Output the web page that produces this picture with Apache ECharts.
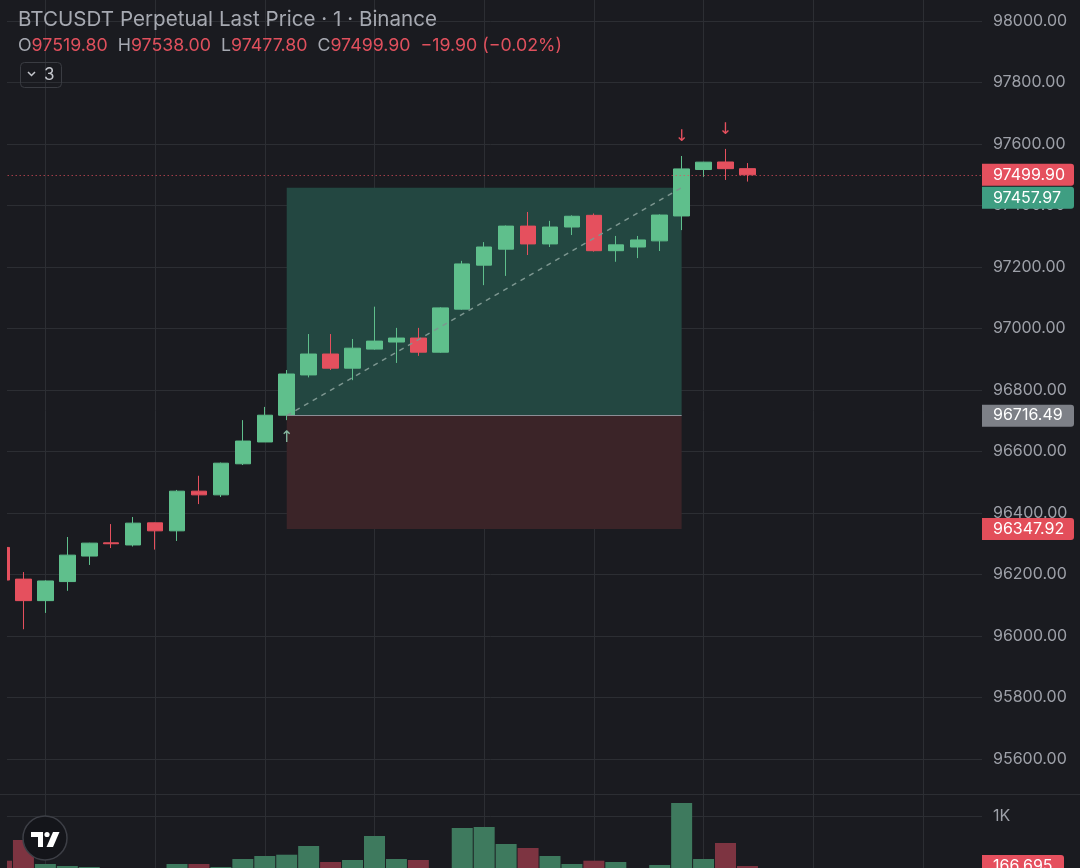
<!DOCTYPE html>
<html><head><meta charset="utf-8">
<script src="https://cdn.jsdelivr.net/npm/echarts@6/dist/echarts.min.js"></script>
<style>html,body{margin:0;padding:0;background:#1a1b20;}#c{width:1080px;height:868px;}</style>
</head><body><div id="c"></div>
<script>
// ---------- data ----------
const barIndex = [0,1,2,3,4,5,6,7,8,9,10,11,12,13,14,15,16,17,18,19,20,21,22,23,24,25,26,27,28,29,30,31,32,33,34];
const opens  = [96288,96185,96115,96177,96260,96303,96296,96368,96342,96471,96459,96560,96631,96718,96849,96917,96871,96933,96956,96969,96923,97063,97206,97258,97333,97275,97330,97368,97253,97265,97285,97366,97517,97541.5,97519.8];
const closes = [96182,96115,96179,96263,96302,96300,96367,96342,96471,96459,96562,96634,96718,96852,96917,96871,96936,96959,96969,96923,97067,97210,97265,97333,97275,97330,97365,97253,97272,97288,97369,97519,97541,97519.8,97499.9];
const lows   = [96170,96022,96075,96147,96231,96286,96291,96281,96309,96429,96452,96556,96631,96702,96841,96865,96832,96931,96888,96911,96921,97061,97141,97171,97239,97265,97304,97250,97217,97229,97252,97320,97493,97483,97477.8];
const highs  = [96300,96208,96181,96322,96303,96364,96387,96369,96475,96521,96564,96702,96745,96865,96982,96982,96966,97071,97002,97002,97069,97220,97281,97335,97379,97350,97368,97374,97301,97301,97371,97561,97542,97584,97538];
const volumes = [255,600,200,167,150,90,110,70,200,200,150,283,333,355,500,233,267,667,283,267,120,800,817,533,467,333,200,255,233,100,183,1217,283,550,166.695];

const entryPrice = 96716.49;
const takeProfit = 97457.97;
const stopLoss = 96347.92;
const positionStart = 13;
const positionEnd = 31;
const signalBars = [13, 31, 33];
const signalDirs = ['up', 'down', 'down'];

const titleText = 'BTCUSDT Perpetual Last Price · 1 · Binance';
const indicatorCount = '3';

// ---------- style ----------
const bg = '#1a1b20';
const gridColor = '#2c2e33';
const upColor = '#5fbf8c', downColor = '#e5505e';
const volUp = '#3e7a5e', volDown = '#7d3441';
const axisText = '#9da0a8';
const FONT = 'Inter';

const last = barIndex.length - 1;
const lastPrice = closes[last];

const candleData = barIndex.map(i => [i, opens[i], closes[i], lows[i], highs[i]]);
const volData = barIndex.map(i => ({ value: [i, volumes[i]], itemStyle: { color: closes[i] < opens[i] ? volDown : volUp } }));

const xBase = (g) => ({
  type: 'value', gridIndex: g, min: -3, max: 44.69, interval: 5,
  axisLine: { show: false }, axisTick: { show: false }, axisLabel: { show: false },
  splitLine: { show: true, showMinLine: false, showMaxLine: false, lineStyle: { color: gridColor, width: 1 } }
});

const chart = echarts.init(document.getElementById('c'), null, { renderer: 'canvas', width: 1080, height: 868 });

chart.setOption({
  animation: false,
  backgroundColor: bg,
  grid: [
    { left: -64.32, right: 98, top: 0, bottom: 47.5, outerBoundsMode: 'none', containLabel: false },
    { left: -64.32, right: 98, top: 794, bottom: -8, outerBoundsMode: 'none', containLabel: false }
  ],
  xAxis: [xBase(0), xBase(1)],
  yAxis: [
    {
      type: 'value', gridIndex: 0, position: 'right', min: 95400, max: 98068.29, interval: 200,
      axisLine: { show: true, lineStyle: { color: gridColor } }, axisTick: { show: false },
      axisLabel: { color: axisText, fontSize: 16, fontFamily: FONT, margin: 11, showMinLabel: false, showMaxLabel: false,
        formatter: v => v.toFixed(2) },
      splitLine: { show: true, showMinLine: false, showMaxLine: false, lineStyle: { color: gridColor } }
    },
    {
      type: 'value', gridIndex: 1, position: 'right', min: 0, max: 1366.7, interval: 1000,
      axisLine: { show: true, lineStyle: { color: gridColor } }, axisTick: { show: false },
      axisLabel: { color: axisText, fontSize: 16, fontFamily: FONT, margin: 11, showMinLabel: false, showMaxLabel: false,
        formatter: v => (v === 1000 ? '1K' : '') },
      splitLine: { show: true, showMinLine: false, showMaxLine: false, lineStyle: { color: gridColor } }
    }
  ],
  series: [
    {
      type: 'line', xAxisIndex: 0, yAxisIndex: 0, z: 1, silent: true,
      data: [[positionStart, entryPrice]], symbol: 'none', lineStyle: { opacity: 0 },
      markArea: {
        silent: true,
        data: [
          [{ coord: [positionStart, entryPrice], itemStyle: { color: '#234741', opacity: 1 } }, { coord: [positionEnd, takeProfit] }],
          [{ coord: [positionStart, stopLoss], itemStyle: { color: '#3b2428', opacity: 1 } }, { coord: [positionEnd, entryPrice] }]
        ]
      },
      markLine: {
        silent: true, symbol: ['none', 'none'], label: { show: false },
        data: [
          [{ coord: [positionStart, entryPrice], lineStyle: { color: '#8b8e95', width: 1, type: 'solid' } }, { coord: [positionEnd, entryPrice] }],
          [{ coord: [positionStart, entryPrice], lineStyle: { color: '#7d9690', width: 1.5, type: [5, 5] } }, { coord: [positionEnd, takeProfit] }]
        ]
      }
    },
    {
      type: 'candlestick', xAxisIndex: 0, yAxisIndex: 0, z: 3,
      data: candleData, encode: { x: 0, y: [1, 2, 3, 4] },
      barWidth: 16,
      itemStyle: { color: upColor, color0: downColor, borderColor: upColor, borderColor0: downColor, borderWidth: 1 },
      markLine: {
        silent: true, symbol: ['none', 'none'], label: { show: false },
        lineStyle: { color: downColor, type: [1, 3], width: 1 },
        data: [{ yAxis: lastPrice }]
      }
    },
    {
      type: 'bar', xAxisIndex: 1, yAxisIndex: 1, z: 2,
      data: volData, barWidth: 21, encode: { x: 0, y: 1 }
    }
  ]
});

// ---------- overlay graphics positioned through the chart's scales ----------
function py(p) { return chart.convertToPixel({ yAxisIndex: 0 }, p); }
function px(i) { return chart.convertToPixel({ xAxisIndex: 0 }, i); }
function vy(v) { return chart.convertToPixel({ yAxisIndex: 1 }, v); }

const fmt = v => v.toFixed(2);
const labels = [
  { y: py(lastPrice), text: fmt(lastPrice), color: downColor },
  { y: py(takeProfit), text: fmt(takeProfit), color: '#3f9e82' },
  { y: py(entryPrice), text: fmt(entryPrice), color: '#7d8087' },
  { y: py(stopLoss), text: fmt(stopLoss), color: '#e34e5a' }
].sort((a, b) => a.y - b.y);
const H = 22;
let prevBottom = -1e9;
labels.forEach(l => {
  let top = l.y - H / 2;
  if (top < prevBottom + 1) top = prevBottom + 1;
  l.top = top; prevBottom = top + H;
});

const graphics = [];
graphics.push({ type: 'rect', shape: { x: 0, y: 0, width: 7, height: 868 }, style: { fill: bg }, z: 50 });
graphics.push({ type: 'line', shape: { x1: 0, y1: 794.5, x2: 1080, y2: 794.5 }, style: { stroke: gridColor, lineWidth: 1 }, z: 51 });

labels.forEach(l => {
  graphics.push({ type: 'rect', shape: { x: 982, y: l.top, width: 92, height: H, r: [0, 3, 3, 0] }, style: { fill: l.color }, z: 60 });
  graphics.push({ type: 'text', x: 993, y: l.top + H / 2, style: { text: l.text, fill: '#ffffff', fontSize: 16, fontFamily: FONT, verticalAlign: 'middle' }, z: 61 });
});
const vY = vy(volumes[last]);
graphics.push({ type: 'rect', shape: { x: 982, y: vY - H / 2, width: 82, height: H, r: [0, 3, 3, 0] }, style: { fill: downColor }, z: 60 });
graphics.push({ type: 'text', x: 993, y: vY, style: { text: String(volumes[last]), fill: '#ffffff', fontSize: 16, fontFamily: FONT, verticalAlign: 'middle' }, z: 61 });

signalBars.forEach((b, k) => {
  const isUp = signalDirs[k] === 'up';
  const yy = isUp ? py(lows[b]) + 18 : py(highs[b]) - 19;
  graphics.push({ type: 'text', x: px(b), y: yy, style: { text: isUp ? '↑' : '↓', fill: isUp ? '#86b8a0' : downColor, fontSize: 16, fontFamily: 'DejaVu Sans', align: 'center', verticalAlign: 'middle' }, z: 62 });
});

graphics.push({ type: 'text', x: 18, y: 20, style: { text: titleText, fill: '#a6a9b1', fontSize: 20.6, fontFamily: FONT, verticalAlign: 'middle' }, z: 70 });
const chg = closes[last] - closes[last - 1];
const pct = chg / closes[last - 1] * 100;
const sgn = v => (v < 0 ? '−' : '+') + Math.abs(v).toFixed(2);
const OF = 17.8;
graphics.push({ type: 'text', x: 18, y: 46, z: 70, style: {
  text: '{g|O}{r|' + fmt(opens[last]) + '}  {g|H}{r|' + fmt(highs[last]) + '}  {g|L}{r|' + fmt(lows[last]) + '}  {g|C}{r|' + fmt(closes[last]) + '}  {r|' + sgn(chg) + ' (' + sgn(pct) + '%)}',
  fontSize: OF, fontFamily: FONT, verticalAlign: 'middle',
  rich: { g: { fill: '#a6a9b1', fontSize: OF, fontFamily: FONT }, r: { fill: '#e0505d', fontSize: OF, fontFamily: FONT } }
} });
graphics.push({ type: 'rect', shape: { x: 20.5, y: 62.5, width: 41, height: 25, r: 4 }, style: { fill: 'none', stroke: '#3a3c42', lineWidth: 1 }, z: 70 });
graphics.push({ type: 'polyline', shape: { points: [[28, 72], [31.5, 75.5], [35, 72]] }, style: { stroke: '#c5c7cd', lineWidth: 1.5, fill: 'none' }, z: 70 });
graphics.push({ type: 'text', x: 44, y: 75, style: { text: indicatorCount, fill: '#c5c7cd', fontSize: 17, fontFamily: FONT, verticalAlign: 'middle' }, z: 70 });

graphics.push({ type: 'circle', shape: { cx: 45, cy: 838, r: 22 }, style: { fill: '#14151a', stroke: '#3d3f46', lineWidth: 1.5 }, z: 70 });
graphics.push({ type: 'polygon', shape: { points: [[31, 832], [43, 832], [43, 847], [38, 847], [38, 837], [31, 837]] }, style: { fill: '#ffffff' }, z: 71 });
graphics.push({ type: 'circle', shape: { cx: 47, cy: 834.5, r: 2.6 }, style: { fill: '#ffffff' }, z: 71 });
graphics.push({ type: 'polygon', shape: { points: [[53, 832], [59.5, 832], [53, 847], [46.5, 847]] }, style: { fill: '#ffffff' }, z: 71 });

chart.setOption({ graphic: graphics });
</script>
</body></html>
